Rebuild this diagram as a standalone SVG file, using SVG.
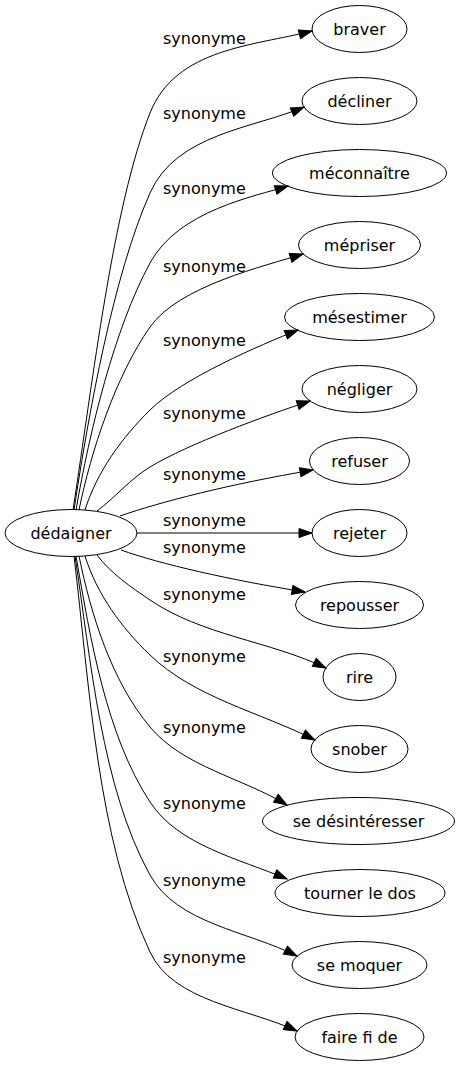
<svg xmlns="http://www.w3.org/2000/svg" width="462" height="1067" viewBox="0 0 462 1067">
<defs>
<style>
.node ellipse{fill:none;stroke:#000;stroke-width:1}
.node text{font-family:"DejaVu Sans",sans-serif;font-size:16px;text-anchor:middle;fill:#000}
.edges path{fill:none;stroke:#000;stroke-width:1}
.lbl{font-family:"DejaVu Sans",sans-serif;font-size:16px;fill:#000}
</style>
<marker id="arr" markerUnits="userSpaceOnUse" markerWidth="15" markerHeight="11" refX="13" refY="4.5" orient="auto" viewBox="-1 -1 15 11">
<path d="M0,0 L13,4.5 L0,9 Z" fill="#000" stroke="#000" stroke-width="1"/>
</marker>
</defs>
<rect width="462" height="1067" fill="#fff"/>
<g class="edges">
<path marker-end="url(#arr)" d="M73,510 C93,380 113,206 150,113 C175.9,47.9 253.8,46 312,31"/>
<path marker-end="url(#arr)" d="M74,510 C89,411 113.5,275.3 150,193 C176.3,133.6 253.4,128.5 304,107"/>
<path marker-end="url(#arr)" d="M76,510 C89.6,431.2 114.2,328.9 150,263 C178.6,210.3 254.8,196.5 288,186"/>
<path marker-end="url(#arr)" d="M79,510 C91,451.2 115.6,376.1 150,327 C178.7,286 265,266 303,254"/>
<path marker-end="url(#arr)" d="M85,510 C97,471.8 121.6,438.1 150,410 C182,378.4 260.8,344.8 298,330"/>
<path marker-end="url(#arr)" d="M97,511 C115.4,497.2 130.3,478.9 150,467 C188.5,443.7 267.3,415 310,401"/>
<path marker-end="url(#arr)" d="M120,516 C160,502 230,484 313,470"/>
<path marker-end="url(#arr)" d="M137,533 L312,533"/>
<path marker-end="url(#arr)" d="M121,550 C160,564 230,580 305,592"/>
<path marker-end="url(#arr)" d="M97,555 C110.8,573.4 131,587.1 150,600 C202.1,635.4 269.3,640.9 326,668"/>
<path marker-end="url(#arr)" d="M85,556 C97,594.2 121.2,627.4 150,655 C194.6,697.8 259.8,712.1 315,740"/>
<path marker-end="url(#arr)" d="M79,556 C91,614.8 111.5,681 150,727 C183.3,766.9 242.8,778 287,805"/>
<path marker-end="url(#arr)" d="M76,556 C90.5,639.7 106.2,735 150,802 C178.4,845.5 239.2,858.7 287,879"/>
<path marker-end="url(#arr)" d="M75,556 C90.8,659.8 101.5,787.6 150,875 C177.2,923.9 247.2,930.8 297,956"/>
<path marker-end="url(#arr)" d="M74,556 C89.6,685.1 96.9,838.9 150,952 C173.4,1001.8 247,1007.9 297,1031"/>
<text class="lbl" x="163" y="44">synonyme</text>
<text class="lbl" x="163" y="119">synonyme</text>
<text class="lbl" x="163" y="194">synonyme</text>
<text class="lbl" x="163" y="272">synonyme</text>
<text class="lbl" x="163" y="346">synonyme</text>
<text class="lbl" x="163" y="419">synonyme</text>
<text class="lbl" x="163" y="480">synonyme</text>
<text class="lbl" x="163" y="526">synonyme</text>
<text class="lbl" x="163" y="553">synonyme</text>
<text class="lbl" x="163" y="600">synonyme</text>
<text class="lbl" x="163" y="662">synonyme</text>
<text class="lbl" x="163" y="733">synonyme</text>
<text class="lbl" x="163" y="809">synonyme</text>
<text class="lbl" x="163" y="886">synonyme</text>
<text class="lbl" x="163" y="963">synonyme</text>
</g>
<g id="n0" class="node"><ellipse cx="71" cy="533" rx="66" ry="23.5"/><text x="71" y="538.5">dédaigner</text></g>
<g id="n1" class="node"><ellipse cx="359.5" cy="29" rx="47.5" ry="23.5"/><text x="359.5" y="34.5">braver</text></g>
<g id="n2" class="node"><ellipse cx="359.5" cy="101" rx="57.5" ry="23.5"/><text x="359.5" y="106.5">décliner</text></g>
<g id="n3" class="node"><ellipse cx="359.5" cy="173" rx="87" ry="23.5"/><text x="359.5" y="178.5">méconnaître</text></g>
<g id="n4" class="node"><ellipse cx="359.5" cy="245" rx="61" ry="23.5"/><text x="359.5" y="250.5">mépriser</text></g>
<g id="n5" class="node"><ellipse cx="359.5" cy="317" rx="75" ry="23.5"/><text x="359.5" y="322.5">mésestimer</text></g>
<g id="n6" class="node"><ellipse cx="359.5" cy="389" rx="57.5" ry="23.5"/><text x="359.5" y="394.5">négliger</text></g>
<g id="n7" class="node"><ellipse cx="359.5" cy="461" rx="50" ry="23.5"/><text x="359.5" y="466.5">refuser</text></g>
<g id="n8" class="node"><ellipse cx="359.5" cy="533" rx="47.5" ry="23.5"/><text x="359.5" y="538.5">rejeter</text></g>
<g id="n9" class="node"><ellipse cx="359.5" cy="605" rx="64" ry="23.5"/><text x="359.5" y="610.5">repousser</text></g>
<g id="n10" class="node"><ellipse cx="359.5" cy="677" rx="36.5" ry="23.5"/><text x="359.5" y="682.5">rire</text></g>
<g id="n11" class="node"><ellipse cx="359.5" cy="749" rx="48.5" ry="23.5"/><text x="359.5" y="754.5">snober</text></g>
<g id="n12" class="node"><ellipse cx="358.5" cy="821" rx="96" ry="23.5"/><text x="358.5" y="826.5">se désintéresser</text></g>
<g id="n13" class="node"><ellipse cx="360" cy="893" rx="85" ry="23.5"/><text x="360" y="898.5">tourner le dos</text></g>
<g id="n14" class="node"><ellipse cx="359.5" cy="965" rx="67.5" ry="23.5"/><text x="359.5" y="970.5">se moquer</text></g>
<g id="n15" class="node"><ellipse cx="359.5" cy="1037" rx="64.5" ry="23.5"/><text x="359.5" y="1042.5">faire fi de</text></g>
</svg>
